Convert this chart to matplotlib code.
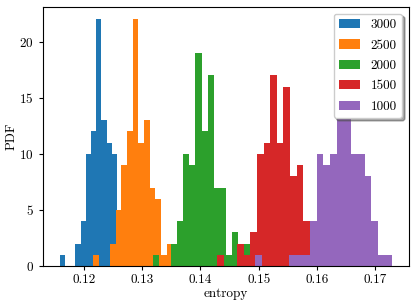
import numpy as np
import matplotlib
matplotlib.use("Agg")
import matplotlib.pyplot as plt

plt.rcParams['font.family'] = 'serif'
plt.rcParams['font.serif'] = ['cmr10']
plt.rcParams['mathtext.fontset'] = 'cm'
plt.rcParams['axes.formatter.use_mathtext'] = True

# Series labels (legend) in plotting order
labels = ["3000", "2500", "2000", "1500", "1000"]

# Data range (min, max entropy) of each series; 20 equal bins each
range_3000 = (0.11582, 0.13375)
range_2500 = (0.12158, 0.14102)
range_2000 = (0.13178, 0.15277)
range_1500 = (0.14288, 0.16559)
range_1000 = (0.14931, 0.17288)

# Counts per bin (hidden parts estimated)
counts_3000 = [1, 0, 0, 2, 4, 10, 12, 22, 13, 11, 10, 5, 4, 2, 1, 1, 0, 0, 1, 1]
counts_2500 = [1, 0, 0, 2, 5, 9, 12, 22, 11, 13, 7, 6, 1, 2, 1, 2, 2, 2, 1, 1]
counts_2000 = [1, 0, 0, 2, 4, 10, 9, 19, 12, 17, 7, 7, 1, 3, 1, 2, 2, 1, 1, 1]
counts_1500 = [1, 0, 0, 2, 1, 3, 10, 11, 17, 11, 16, 8, 9, 4, 3, 2, 1, 0, 0, 1]
counts_1000 = [1, 0, 0, 0, 0, 1, 1, 1, 4, 10, 9, 10, 15, 14, 10, 10, 8, 4, 1, 1]

ranges = [range_3000, range_2500, range_2000, range_1500, range_1000]
counts = [counts_3000, counts_2500, counts_2000, counts_1500, counts_1000]
colors = ["#1f77b4", "#ff7f0e", "#2ca02c", "#d62728", "#9467bd"]

fig = plt.figure(figsize=(4.15, 3.08), dpi=100)
ax = fig.add_axes([0.1036, 0.1364, 0.8812, 0.8409])

for lab, rg, cnt, col in zip(labels, ranges, counts, colors):
    edges = np.linspace(rg[0], rg[1], len(cnt) + 1)
    centers = 0.5 * (edges[:-1] + edges[1:])
    ax.hist(centers, bins=edges, weights=cnt, color=col, label=lab)

ax.set_xticks([0.12, 0.13, 0.14, 0.15, 0.16, 0.17])
ax.set_xticklabels(["0.12", "0.13", "0.14", "0.15", "0.16", "0.17"])
ax.set_yticks([0, 5, 10, 15, 20])
ax.tick_params(labelsize=9.5, length=3, width=0.8)
ax.tick_params(axis='x', pad=3)
ax.set_xlabel("entropy", fontsize=9.5, labelpad=1)
ax.set_ylabel("PDF", fontsize=9.5, labelpad=1)
for s in ax.spines.values():
    s.set_linewidth(0.8)

ax.legend(loc="upper right", shadow=True, framealpha=1, fontsize=9.5,
          handlelength=1.6, labelspacing=0.62, edgecolor="#cccccc")

fig.savefig("out.png", dpi=100)
